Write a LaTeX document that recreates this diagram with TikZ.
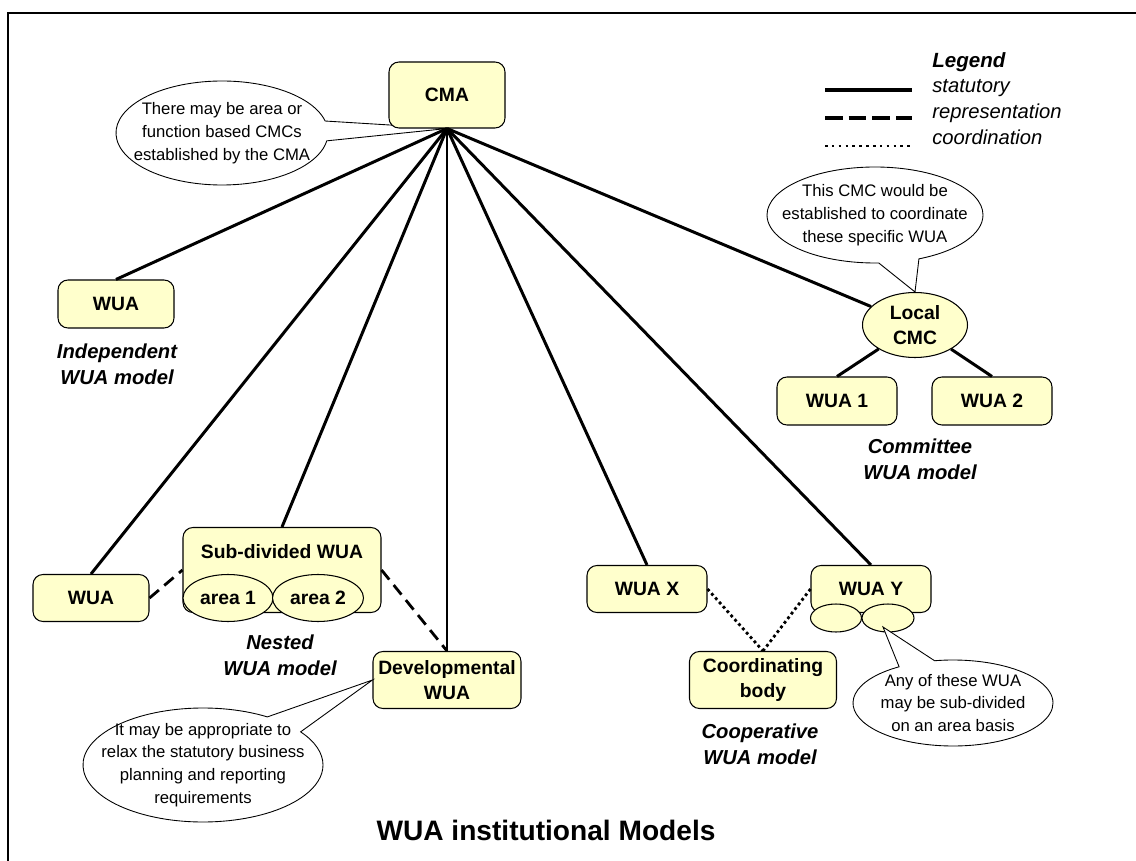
\documentclass[tikz,border=0pt]{standalone}
\usepackage{fontspec}
\setmainfont{Liberation Sans}
\usepackage{tikz}
\usetikzlibrary{positioning, calc, shapes.geometric, shapes.callouts, backgrounds}

\definecolor{wuafill}{RGB}{255,255,204}
\def\raster{0.02cm}

\tikzset{
    wuabox/.style={draw=black, line width=0.6pt, fill=wuafill, rounded corners=0.2cm,
        inner sep=0pt, align=center, font=\fontsize{11}{14}\selectfont\bfseries},
    areaell/.style={ellipse, draw=black, line width=0.6pt, fill=wuafill, inner sep=0pt,
        align=center, font=\fontsize{11}{14}\selectfont\bfseries},
    notecloud/.style={ellipse callout, draw=black, line width=0.5pt, fill=white,
        inner sep=0pt, callout pointer arc=22},
    notetext/.style={align=center, font=\fontsize{9.5}{13}\selectfont},
    modellabel/.style={align=center, font=\fontsize{11.5}{15}\selectfont\bfseries\itshape},
    statutory/.style={line width=1.7pt},
    representation/.style={line width=1.6pt, dash pattern=on 7pt off 4pt},
    coordination/.style={line width=1.6pt, dash pattern=on 1.6pt off 1.7pt},
    legendtext/.style={anchor=base west, inner sep=0pt, font=\fontsize{11.5}{14}\selectfont\itshape},
}

\begin{document}
\begin{tikzpicture}[x=\raster, y=-\raster]
    \useasboundingbox (0,0) rectangle (1136,861);

    % frame
    \draw[line width=0.8pt] (1136,13) -- (8,13) -- (8,861);

    % top authority
    \node[wuabox, minimum width=116*\raster, minimum height=66*\raster] (cma) at (447,95) {CMA};

    % independent model
    \node[wuabox, minimum width=116*\raster, minimum height=48*\raster] (indep) at (116,304) {WUA};
    \node[modellabel] (indeplabel) at (117,364) {Independent\\WUA model};

    % nested model
    \node[wuabox, minimum width=116*\raster, minimum height=47*\raster] (nestwua) at (91,598) {WUA};
    \node[wuabox, minimum width=198*\raster, minimum height=85*\raster,
        label={[anchor=center, yshift=-0.5cm, font=\fontsize{11}{14}\selectfont\bfseries]north:Sub-divided WUA}]
        (subwua) at (282,570) {};
    \node[areaell, minimum width=90*\raster, minimum height=47*\raster] (areaone) at (228,598) {area 1};
    \node[areaell, minimum width=91*\raster, minimum height=47*\raster] (areatwo) at (318,598) {area 2};
    \node[modellabel] (nestlabel) at (280,655) {Nested\\WUA model};

    % developmental
    \node[wuabox, minimum width=148*\raster, minimum height=57*\raster] (dev) at (447,680) {Developmental\\WUA};

    % cooperative model
    \node[wuabox, minimum width=120*\raster, minimum height=47*\raster] (wuax) at (647,589) {WUA X};
    \node[wuabox, minimum width=120*\raster, minimum height=47*\raster] (wuay) at (871,589) {WUA Y};
    \node[areaell, minimum width=51*\raster, minimum height=28*\raster] (yareaone) at (836,618) {};
    \node[areaell, minimum width=52*\raster, minimum height=28*\raster] (yareatwo) at (888,618) {};
    \node[wuabox, minimum width=147*\raster, minimum height=57*\raster] (coordbody) at (763,680) {Coordinating\\body};
    \node[modellabel] (cooplabel) at (760,744) {Cooperative\\WUA model};

    % committee model
    \node[areaell, minimum width=105*\raster, minimum height=65*\raster] (lcmc) at (915,325) {Local\\CMC};
    \node[wuabox, minimum width=120*\raster, minimum height=48*\raster] (wuaone) at (837,401) {WUA 1};
    \node[wuabox, minimum width=120*\raster, minimum height=48*\raster] (wuatwo) at (992,401) {WUA 2};
    \node[modellabel] (commlabel) at (920,459) {Committee\\WUA model};

    % statutory links
    \foreach \target in {indep.north, nestwua.north, subwua.north, dev.north, wuax.north, wuay.north, lcmc}
    {
        \draw[statutory] (cma.south) -- (\target);
    }
    \draw[statutory] (lcmc) -- (wuaone.north);
    \draw[statutory] (lcmc) -- (wuatwo.north);

    % representation links
    \draw[representation] (nestwua.east) -- (subwua.west);
    \draw[representation] (subwua.east) -- (dev.north);

    % coordination links
    \draw[coordination] (wuax.east) -- (coordbody.north);
    \draw[coordination] (wuay.west) -- (coordbody.north);

    % notes behind the boxes
    \begin{scope}[on background layer]
        \node[notecloud, minimum width=212*\raster, minimum height=104*\raster,
            callout absolute pointer={(cma.south)},
            label={[notetext]center:There may be area or\\function based CMCs\\established by the CMA}]
            (cmanote) at (222,133) {};
        \node[notecloud, minimum width=216*\raster, minimum height=96*\raster,
            callout absolute pointer={(lcmc.north)},
            label={[notetext]center:This CMC would be\\established to coordinate\\these specific WUA}]
            (lcmcnote) at (875,215) {};
    \end{scope}

    \node[notecloud, minimum width=240*\raster, minimum height=114*\raster,
        callout absolute pointer={(dev.west)},
        label={[notetext]center:It may be appropriate to\\relax the statutory business\\planning and reporting\\requirements}]
        (devnote) at (203,765) {};
    \node[notecloud, minimum width=200*\raster, minimum height=86*\raster,
        callout absolute pointer={($(yareatwo.center)+(-5,9)$)},
        label={[notetext]center:Any of these WUA\\may be sub-divided\\on an area basis}]
        (areanote) at (953,703) {};

    % legend
    \node[legendtext, font=\fontsize{11.7}{14}\selectfont\bfseries\itshape] (legendhead) at (932,68) {Legend};
    \node[legendtext] (statlabel) at (932,93) {statutory};
    \node[legendtext] (replabel) at (932,119) {representation};
    \node[legendtext] (coordlabel) at (932,145) {coordination};
    \draw[statutory, line width=2.3pt] ($(statlabel.base west)+(-107,-3)$) -- ++(87,0);
    \draw[representation, line width=2.3pt, dash pattern=on 10pt off 3.5pt] ($(replabel.base west)+(-107,-1)$) -- ++(87,0);
    \draw[coordination, line width=1.5pt, dash pattern=on 1.5pt off 2.4pt] ($(coordlabel.base west)+(-107,1)$) -- ++(87,0);

    % title
    \node[font=\fontsize{16}{19}\selectfont\bfseries] (title) at (546,830) {WUA institutional Models};
\end{tikzpicture}
\end{document}
